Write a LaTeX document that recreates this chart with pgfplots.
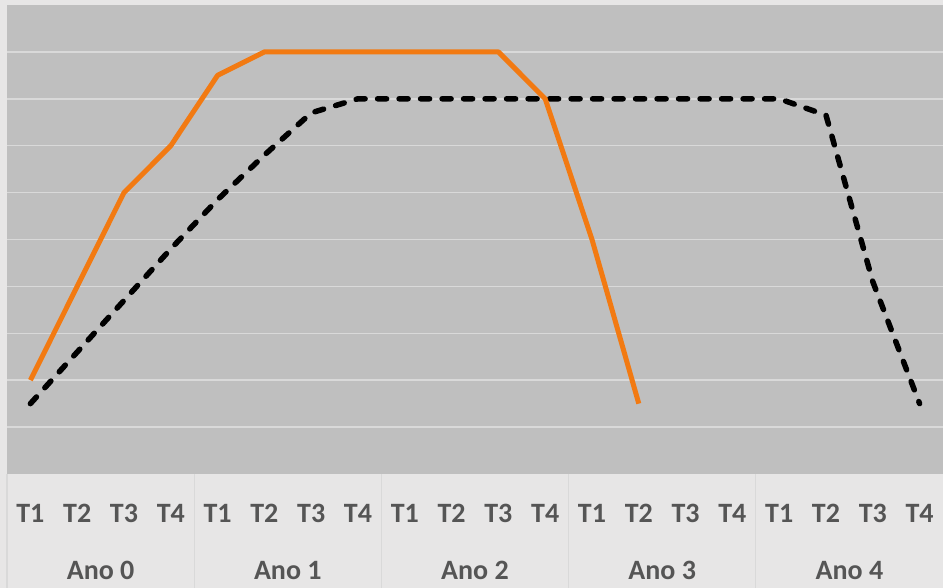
\documentclass[border=0pt]{standalone}
\usepackage{pgfplots}
\pgfplotsset{compat=1.18}
\usepackage{fontspec}
\setmainfont{Carlito}
\definecolor{bgout}{HTML}{E7E6E6}
\definecolor{plotbg}{HTML}{BFBFBF}
\definecolor{gridc}{HTML}{D9D9D9}
\definecolor{orangeL}{HTML}{F27A12}
\definecolor{txt}{HTML}{555555}
\begin{document}
\begin{tikzpicture}[x=1pt,y=1pt]
\path[use as bounding box, fill=bgout] (0,0) rectangle (943,588);
\begin{axis}[
  at={(7pt,114pt)}, anchor=south west,
  width=936pt, height=469pt, scale only axis,
  xmin=-0.5, xmax=19.5, ymin=0, ymax=10,
  axis background/.style={fill=plotbg},
  axis line style={draw=none},
  ytick={1,...,9}, yticklabels={},
  ymajorgrids, grid style={gridc, line width=1.5pt},
  xtick={0,...,19},
  xticklabels={T1,T2,T3,T4,T1,T2,T3,T4,T1,T2,T3,T4,T1,T2,T3,T4,T1,T2,T3,T4},
  xticklabel style={anchor=base, yshift=-49pt, font=\bfseries\fontsize{28}{30}\selectfont, text=txt},
  major tick length=0pt,
  clip=false,
]
\foreach \s in {-0.5,3.5,7.5,11.5,15.5}{
  \edef\tmp{\noexpand\draw[gridc, line width=1.2pt] (axis cs:\s,0) -- ([yshift=-114pt]axis cs:\s,0);}
  \tmp
}
\addplot[black, line width=5.5pt, dash pattern=on 9pt off 12.5pt, line cap=round, line join=round] coordinates {
(0,1.5)(1,2.6)(2,3.7)(3,4.8)(4,5.85)(5,6.8)(6,7.7)(7,8)(8,8)(9,8)(10,8)(11,8)(12,8)(13,8)(14,8)(15,8)(16,8)(17,7.65)(18,4.1)(19,1.5)};
\addplot[orangeL, line width=5pt, line join=round] coordinates {
(0,2)(1,4)(2,6)(3,7)(4,8.5)(5,9)(6,9)(7,9)(8,9)(9,9)(10,9)(11,8)(12,5)(13,1.5)};
\foreach \c/\n in {1.5/0,5.5/1,9.5/2,13.5/3,17.5/4}{
  \edef\tmp{\noexpand\node[anchor=base, text=txt, font=\noexpand\bfseries\noexpand\fontsize{28}{30}\noexpand\selectfont] at (axis cs:\c,0) [yshift=-106pt] {Ano \n};}
  \tmp
}
\end{axis}
\end{tikzpicture}
\end{document}
